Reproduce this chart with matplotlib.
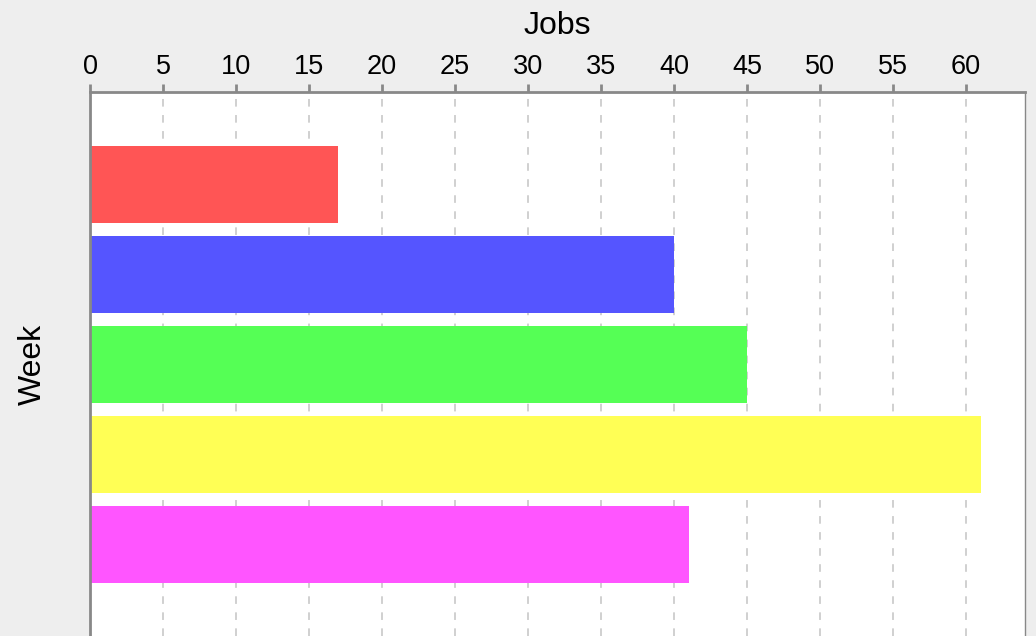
import matplotlib.pyplot as plt

# Data
weeks = ["Week 1", "Week 2", "Week 3", "Week 4", "Week 5"]
jobs = [17, 40, 45, 61, 41]
bar_colors = ["#ff5555", "#5555ff", "#55ff55", "#ffff55", "#ff55ff"]
x_ticks = list(range(0, 65, 5))

plt.rcParams['font.family'] = ['Liberation Sans', 'DejaVu Sans']

fig = plt.figure(figsize=(10.36, 6.36), dpi=100)
fig.set_facecolor('#eeeeee')

W, H = 1036, 636
left, right, top, bottom = 90, 1025, 92, 636
ax = fig.add_axes([left / W, 1 - bottom / H, (right - left) / W, (bottom - top) / H])
ax.set_facecolor('white')

pos = list(range(len(weeks)))
ax.barh(pos, jobs, height=0.855, color=bar_colors, zorder=2)

ax.set_xlim(0, 64.04)
ax.set_ylim(5.017, -1.022)

# x axis on top
ax.xaxis.tick_top()
ax.xaxis.set_label_position('top')
ax.set_xticks(x_ticks)
ax.set_xticklabels([str(t) for t in x_ticks], fontsize=19.5)
ax.tick_params(axis='x', direction='out', length=6, width=2, color='#888888', pad=3)
ax.set_yticks([])

ax.grid(axis='x', color='#c4c4c4', linestyle=(0, (5, 5.5)), linewidth=1.1, zorder=1)

ax.set_xlabel("Jobs", fontsize=23, labelpad=14)
ax.set_ylabel("Week", fontsize=23, labelpad=30)

for side in ['left', 'top']:
    ax.spines[side].set_color('#888888')
    ax.spines[side].set_linewidth(2)
ax.spines['right'].set_color('#888888')
ax.spines['right'].set_linewidth(1)
ax.spines['bottom'].set_visible(False)

plt.savefig('out.png', dpi=100, facecolor=fig.get_facecolor())
